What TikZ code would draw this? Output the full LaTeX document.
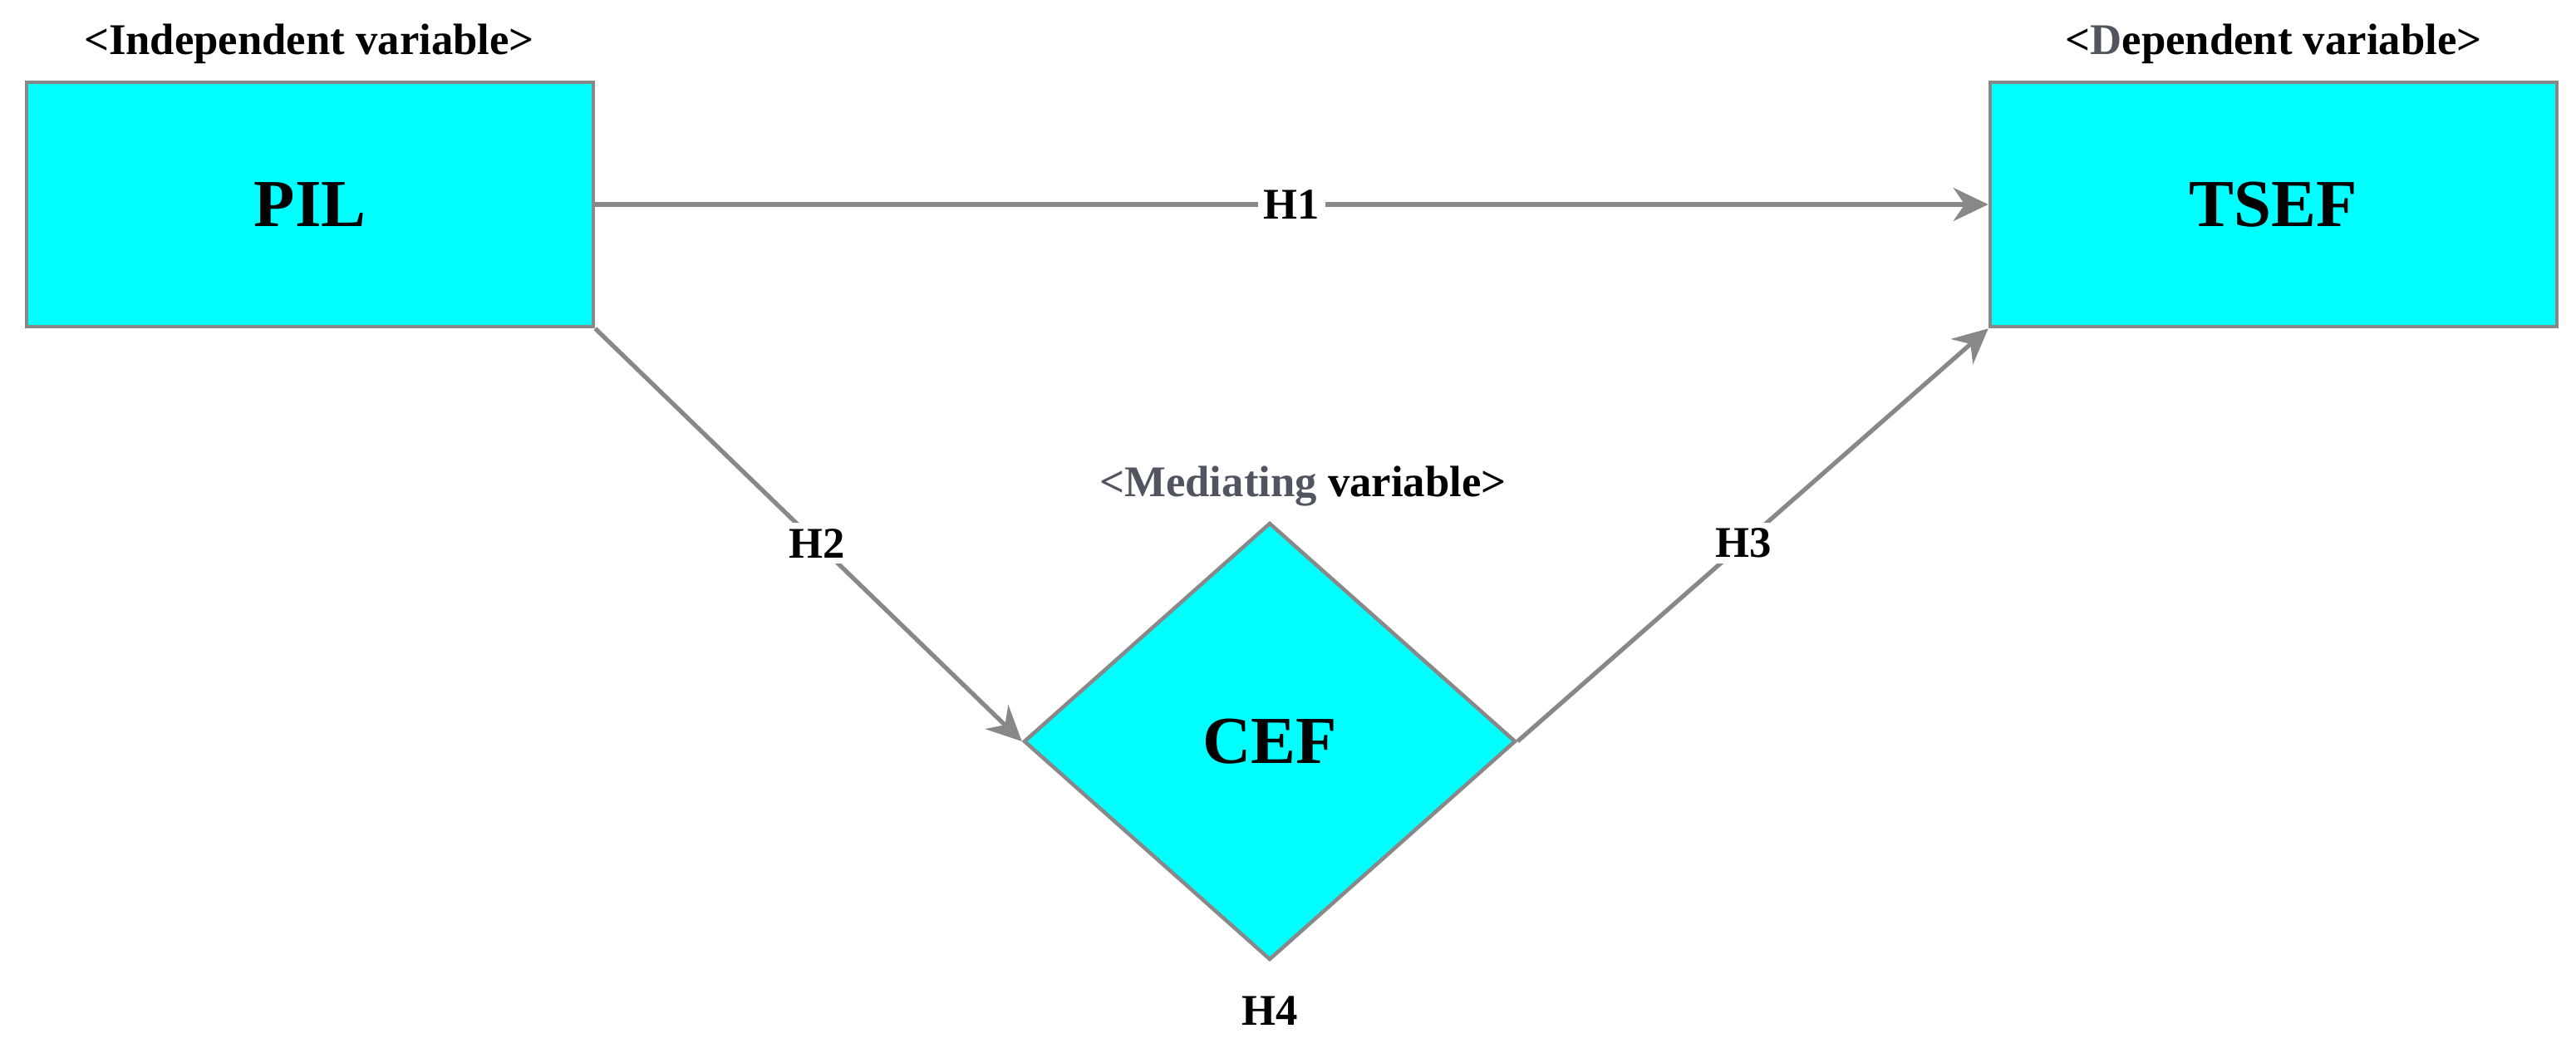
\documentclass[tikz,border=0pt]{standalone}
\usepackage{fontspec}
\setmainfont{Liberation Serif}
\usetikzlibrary{shapes.geometric,arrows.meta}
\definecolor{boxcyan}{RGB}{0,255,255}
\definecolor{linegray}{RGB}{136,136,136}
\definecolor{textgray}{RGB}{80,85,95}

\begin{document}
\begin{tikzpicture}
  [var/.style={rectangle,draw=linegray,line width=1.3pt,fill=boxcyan,
     minimum width=6.82cm,minimum height=2.94cm,font=\fontsize{23}{26}\selectfont\bfseries},
   med/.style={diamond,draw=linegray,line width=1.3pt,fill=boxcyan,inner sep=0pt,
     minimum width=5.92cm,minimum height=5.26cm,font=\fontsize{23}{26}\selectfont\bfseries},
   tag/.style={font=\fontsize{15}{18}\selectfont\bfseries},
   hyp/.style={fill=white,inner sep=2pt,font=\fontsize{15}{18}\selectfont\bfseries},
   link/.style={draw=linegray,line width=1.5pt,-{Stealth[length=4.2mm,width=4mm]}},
  ]
  \useasboundingbox (0,0) rectangle (31,12.73);
  \node[var] (pil) at (3.73,10.27) {PIL};
  \node[var] (tsef) at (27.36,10.27) {TSEF};
  \node[med] (cef) at (15.28,3.81) {CEF};

  \node[tag] (tpil) at (3.72,12.2) {<Independent variable>};
  \node[tag] (ttsef) at (27.36,12.2) {<{\color{textgray}D}ependent variable>};
  \node[tag] (tcef) at (15.68,6.88) {{\color{textgray}<Mediating} variable>};
  \node[hyp] (h4) at (15.28,0.57) {H4};

  \path[link] (pil.east) -- node[hyp]{H1} (tsef.west);
  \path[link] (pil.south east) -- node[hyp,pos=0.52]{H2} (cef.west);
  \path[link] (cef.east) -- node[hyp,pos=0.48]{H3} (tsef.south west);
\end{tikzpicture}
\end{document}
